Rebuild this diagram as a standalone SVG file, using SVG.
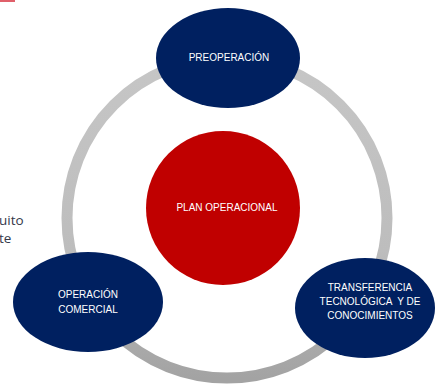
<svg xmlns="http://www.w3.org/2000/svg" width="435" height="385" viewBox="0 0 435 385">
<defs>
<linearGradient id="ringGrad" x1="0" y1="0" x2="0" y2="1">
<stop offset="0" stop-color="#c6c6c6"/>
<stop offset="0.6" stop-color="#bdbdbd"/>
<stop offset="1" stop-color="#a3a3a3"/>
</linearGradient>
</defs>
<style>
.node{fill:#002060;}
.center{fill:#c00000;}
.lbl{font-family:"Liberation Sans",Arial,sans-serif;font-size:10px;fill:#ffffff;text-anchor:middle;}
.side{font-family:"Open Sans","Liberation Sans",sans-serif;font-size:13.5px;fill:#35384a;}
</style>
<rect width="435" height="385" fill="#ffffff"/>
<rect x="0" y="0" width="15" height="2" fill="#e0606a"/>
<text class="side" x="-1" y="225">uito</text>
<text class="side" x="-1" y="243">te</text>
<g id="connectors">
<circle cx="227" cy="218" r="160" fill="none" stroke="url(#ringGrad)" stroke-width="11"/>
</g>
<g id="plan-operacional">
<circle class="center" cx="223" cy="208" r="77"/>
<text class="lbl" x="227" y="211">PLAN OPERACIONAL</text>
</g>
<g id="preoperacion">
<ellipse class="node" cx="228" cy="58" rx="72" ry="50"/>
<text class="lbl" x="229" y="61">PREOPERACIÓN</text>
</g>
<g id="operacion-comercial">
<ellipse class="node" cx="88" cy="302" rx="75" ry="50"/>
<text class="lbl" x="88" y="298">OPERACIÓN</text>
<text class="lbl" x="88" y="313">COMERCIAL</text>
</g>
<g id="transferencia">
<ellipse class="node" cx="365" cy="308" rx="70" ry="50"/>
<text class="lbl" x="370" y="291">TRANSFERENCIA</text>
<text class="lbl" x="370" y="305" xml:space="preserve">TECNOLÓGICA  Y DE</text>
<text class="lbl" x="370" y="319">CONOCIMIENTOS</text>
</g>
</svg>
